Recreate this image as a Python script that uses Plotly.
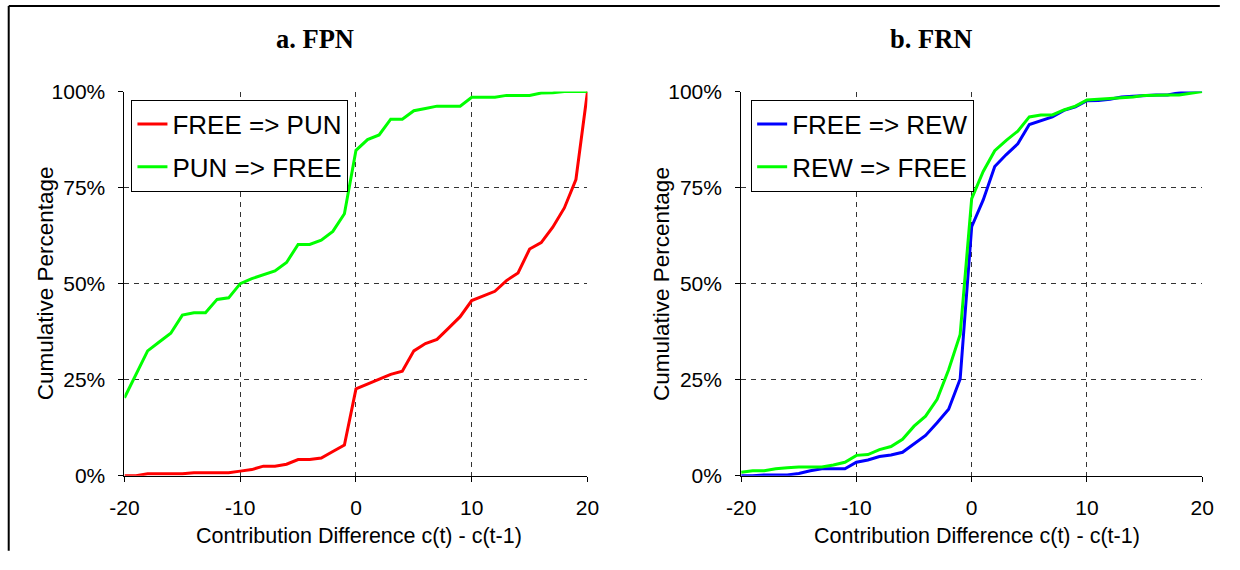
import plotly.graph_objects as go

# ---------------- data ----------------
diff = list(range(-20, 21))

fpn_free_to_pun = [0, 0, 0.5, 0.5, 0.5, 0.5, 0.8, 0.8, 0.8, 0.8,
                   1.2, 1.6, 2.5, 2.5, 3.0, 4.2, 4.2, 4.6, 6.3, 8.0,
                   22.6, 23.8, 25.1, 26.4, 27.2, 32.5, 34.4, 35.5, 38.4, 41.4,
                   45.6, 46.9, 48.0, 50.8, 52.8, 59.0, 60.7, 64.7, 69.7, 77.1,
                   100]
fpn_pun_to_free = [20.3, 26.4, 32.5, 34.8, 37.1, 41.8, 42.4, 42.4, 45.9, 46.3,
                   50.0, 51.3, 52.4, 53.3, 55.5, 60.2, 60.2, 61.3, 63.6, 68.2,
                   84.7, 87.5, 88.7, 92.8, 92.8, 95.0, 95.6, 96.2, 96.2, 96.2,
                   98.5, 98.5, 98.5, 99.0, 99.0, 99.0, 99.6, 99.7, 100, 100,
                   100]
frn_free_to_rew = [0, 0, 0.2, 0.2, 0.2, 0.6, 1.3, 1.8, 1.8, 1.8,
                   3.5, 4.1, 5.0, 5.4, 6.1, 8.3, 10.5, 13.8, 17.3, 25.2,
                   64.8, 71.8, 80.5, 83.6, 86.4, 91.4, 92.3, 93.4, 95.1, 96.0,
                   97.6, 97.7, 98.0, 98.6, 98.8, 99.0, 99.1, 99.1, 99.7, 100,
                   100]
frn_rew_to_free = [0.9, 1.3, 1.3, 1.8, 2.1, 2.3, 2.3, 2.3, 2.8, 3.5,
                   5.3, 5.5, 6.8, 7.6, 9.5, 12.9, 15.5, 19.9, 27.6, 36.8,
                   72.1, 79.2, 84.6, 87.3, 89.7, 93.4, 93.9, 93.9, 95.2, 96.2,
                   97.8, 98.0, 98.3, 98.4, 98.6, 99.0, 99.1, 99.1, 99.1, 99.5,
                   100]

x_ticks = [-20, -10, 0, 10, 20]
x_tick_labels = ["-20", "-10", "0", "10", "20"]
y_ticks = [0, 25, 50, 75, 100]
y_tick_labels = ["0%", "25%", "50%", "75%", "100%"]
panel_titles = ["a. FPN", "b. FRN"]
x_title = "Contribution Difference c(t) - c(t-1)"
y_title = "Cumulative Percentage"

# ---------------- figure ----------------
# Figure size chosen so that, with the page's default 8px body margin, the
# page is 1240x570.  Layout positions are written as target picture pixels and
# converted with a calibration measured from earlier renders.
W, H = 1224, 554
AX, AY = 14.3, 11.5      # picture offset of figure origin
SX, SY = 0.98, 0.958     # picture scale of figure pixels
SANS = "Liberation Sans, Arial, sans-serif"
SERIF = "Liberation Serif, Times New Roman, serif"


def px_x(p):
    return ((p - AX) / SX) / W


def px_y(p):
    return 1 - ((p - AY) / SY) / H


fig = go.Figure()

fig.add_trace(go.Scatter(x=diff, y=fpn_free_to_pun, mode="lines", name="FREE => PUN",
                         line=dict(color="#FF0000", width=3), xaxis="x", yaxis="y",
                         legend="legend", legendgroup="a1"))
fig.add_trace(go.Scatter(x=diff, y=fpn_pun_to_free, mode="lines", name="PUN => FREE",
                         line=dict(color="#00FF00", width=3), xaxis="x", yaxis="y",
                         legend="legend", legendgroup="a2"))
fig.add_trace(go.Scatter(x=diff, y=frn_free_to_rew, mode="lines", name="FREE => REW",
                         line=dict(color="#0000FF", width=3), xaxis="x2", yaxis="y2",
                         legend="legend2", legendgroup="b1"))
fig.add_trace(go.Scatter(x=diff, y=frn_rew_to_free, mode="lines", name="REW => FREE",
                         line=dict(color="#00FF00", width=3), xaxis="x2", yaxis="y2",
                         legend="legend2", legendgroup="b2"))

common_x = dict(range=[-20, 20], tickmode="array", tickvals=x_ticks, ticktext=x_tick_labels,
                showgrid=True, gridcolor="#333333",
                griddash="5px,5px", gridwidth=1, zeroline=False, showline=True,
                linecolor="black", linewidth=1, ticks="outside", ticklen=5,
                tickcolor="black", tickfont=dict(family=SANS, size=21, color="black"),
                ticklabelstandoff=8, fixedrange=True)
common_y = dict(range=[0, 100], tickmode="array", tickvals=y_ticks, ticktext=y_tick_labels,
                showgrid=True, gridcolor="#333333", griddash="5px,5px", gridwidth=1,
                zeroline=False, showline=True, linecolor="black", linewidth=1,
                ticks="outside", ticklen=5, tickcolor="black",
                tickfont=dict(family=SANS, size=21, color="black"),
                ticklabelstandoff=9, fixedrange=True)

legend_common = dict(bgcolor="white", bordercolor="black", borderwidth=1,
                     font=dict(family=SANS, size=26, color="black"),
                     xanchor="left", yanchor="top", tracegroupgap=6,
                     itemwidth=30)

fig.update_layout(
    width=W, height=H, autosize=False,
    margin=dict(l=0, r=0, t=0, b=0, pad=0),
    paper_bgcolor="white", plot_bgcolor="white",
    xaxis=dict(domain=[px_x(124), px_x(588)], anchor="y", **common_x),
    yaxis=dict(domain=[px_y(475), px_y(91)], anchor="x", **common_y),
    xaxis2=dict(domain=[px_x(742), px_x(1204)], anchor="y2", **common_x),
    yaxis2=dict(domain=[px_y(475), px_y(91)], anchor="x2", **common_y),
    legend=dict(x=px_x(131), y=px_y(99), **legend_common),
    legend2=dict(x=px_x(752), y=px_y(99), **legend_common),
    showlegend=True,
)

annotations = []
for tx, t in zip([315, 932], panel_titles):
    annotations.append(dict(x=px_x(tx), y=px_y(38.5), xref="paper", yref="paper",
                            text="<b>%s</b>" % t, showarrow=False,
                            font=dict(family=SERIF, size=26.5, color="black"),
                            xanchor="center", yanchor="middle"))
for tx in [359, 978]:
    annotations.append(dict(x=px_x(tx), y=px_y(535), xref="paper", yref="paper",
                            text=x_title, showarrow=False,
                            font=dict(family=SANS, size=21.5, color="black"),
                            xanchor="center", yanchor="middle"))
for tx in [45, 662]:
    annotations.append(dict(x=px_x(tx), y=px_y(283), xref="paper", yref="paper",
                            text=y_title, showarrow=False, textangle=-90,
                            font=dict(family=SANS, size=22.5, color="black"),
                            xanchor="center", yanchor="middle"))
fig.update_layout(annotations=annotations)

# outer frame (runs off the right and bottom edges)
fig.add_shape(type="line", xref="paper", yref="paper",
              x0=px_x(8), x1=px_x(8), y0=px_y(5.5), y1=1 - 562 / H,
              line=dict(color="black", width=2))
fig.add_shape(type="line", xref="paper", yref="paper",
              x0=px_x(8), x1=1232 / W, y0=px_y(5.5), y1=px_y(5.5),
              line=dict(color="black", width=2))

fig.write_html("out.html", config={"displayModeBar": False})
